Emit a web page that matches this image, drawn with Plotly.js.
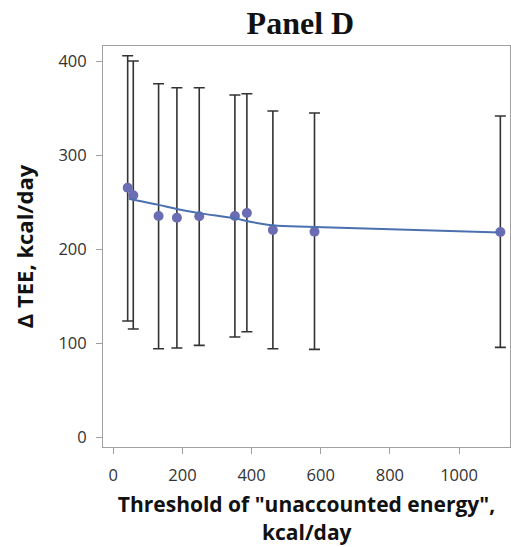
<!DOCTYPE html>
<html><head><meta charset="utf-8">
<script src="https://cdn.plot.ly/plotly-3.0.1.min.js"></script>
<style>body{margin:0;background:#fff}#c{width:511px;height:547px}</style>
</head><body><div id="c"></div>
<script>
const thresholds = [41.6, 57.8, 131, 184, 248.6, 351.7, 386.4, 461.6, 582, 1119.6];
const deltaTEE   = [265.2, 257.1, 235.1, 233.3, 234.8, 235.1, 238.3, 220.2, 218.4, 218.1];
const upperCI    = [405.6, 400.0, 375.9, 371.6, 371.6, 363.8, 365.2, 346.8, 344.7, 341.5];
const lowerCI    = [123.4, 114.9, 94.0, 94.7, 97.5, 106.4, 112.0, 94.0, 93.3, 95.4];
const fitX       = [45, 57.8, 131, 184, 248.6, 351.7, 386.4, 461.6, 582, 1119.6];
const fitY       = [253.5, 252.5, 247.0, 242.5, 238.2, 232.6, 229.8, 225.2, 223.5, 217.5];
const xTitleLine1 = 'Threshold of "unaccounted energy",';
const xTitleLine2 = 'kcal/day';

const plus = deltaTEE.map((v,i)=>upperCI[i]-v);
const minus = deltaTEE.map((v,i)=>v-lowerCI[i]);

const traces = [
  {x: thresholds, y: deltaTEE, mode:'markers', type:'scatter',
   marker:{color:'#6a6cb4', size:10},
   error_y:{type:'data', symmetric:false, array:plus, arrayminus:minus,
            color:'#333333', thickness:1.6, width:5.5}},
  {x: fitX, y: fitY, mode:'lines', type:'scatter',
   line:{color:'#4b70b0', width:2, shape:'spline'}}
];
const layout = {
  width:511, height:547, showlegend:false,
  paper_bgcolor:'#fff', plot_bgcolor:'#fff',
  margin:{l:103, r:1, t:46, b:100},
  title:{text:'<b>Panel D</b>', xref:'paper', x:0.485, xanchor:'center', yref:'container', y:0.978, yanchor:'top',
         font:{family:'Liberation Serif, Times New Roman, serif', size:32, color:'#111'}},
  xaxis:{range:[-29.8,1147.5], tickvals:[0,200,400,600,800,1000],
         showgrid:false, zeroline:false, showline:true, mirror:true, linecolor:'#a0a0a0', linewidth:1,
         ticks:'outside', ticklen:6, tickcolor:'#a0a0a0', ticklabelstandoff:7,
         tickfont:{family:'Open Sans, DejaVu Sans, sans-serif', size:16.5, color:'#333'},
         title:{text:'<b>'+xTitleLine1+'</b>', standoff:12,
                font:{family:'Open Sans, DejaVu Sans, sans-serif', size:21, color:'#111'}}},
  yaxis:{range:[-10.6,416], tickvals:[0,100,200,300,400],
         showgrid:false, zeroline:false, showline:true, mirror:true, linecolor:'#a0a0a0', linewidth:1,
         ticks:'outside', ticklen:6, tickcolor:'#a0a0a0', ticklabelstandoff:6,
         tickfont:{family:'Open Sans, DejaVu Sans, sans-serif', size:16.5, color:'#333'},
         title:{text:'<b>Δ TEE, kcal/day</b>', standoff:18,
                font:{family:'Open Sans, DejaVu Sans, sans-serif', size:22, color:'#111'}}},
  annotations:[{text:'<b>'+xTitleLine2+'</b>', xref:'paper', yref:'paper', x:0.5, y:-0.212,
                xanchor:'center', yanchor:'middle', showarrow:false,
                font:{family:'Open Sans, DejaVu Sans, sans-serif', size:21, color:'#111'}}]
};
Plotly.newPlot('c', traces, layout, {displayModeBar:false, staticPlot:true});
</script></body></html>
